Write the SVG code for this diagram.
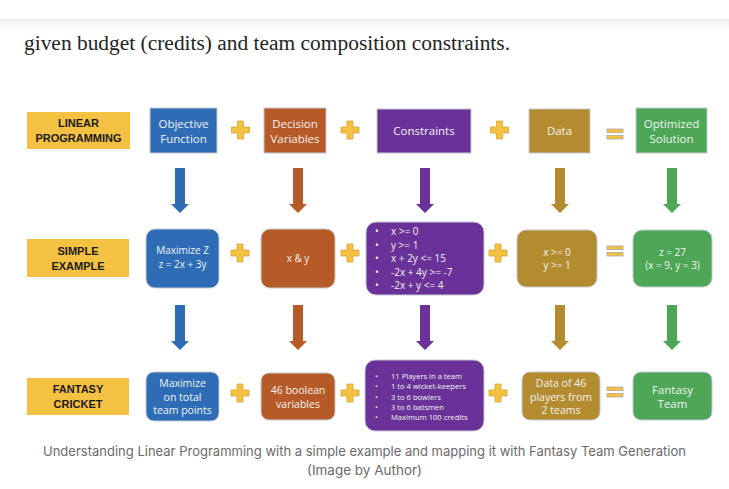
<svg xmlns="http://www.w3.org/2000/svg" xmlns:xlink="http://www.w3.org/1999/xlink" width="729" height="489" viewBox="0 0 729 489">
  <style>
    .lbl { fill: #F5C142; }
    .lbltxt { font-family: "Liberation Sans", Arial, sans-serif; font-weight: bold; font-size: 11px; fill: #1a1a1a; text-anchor: middle; }
    .box { stroke: #c3c9d2; stroke-width: 1; }
    .t { font-family: "Open Sans", "Liberation Sans", sans-serif; fill: #f2f2f2; text-anchor: middle; }
    .t1 { font-size: 11.5px; }
    .t2 { font-size: 10px; }
    .t3 { font-size: 10.5px; }
    .bl { font-family: "Open Sans", "Liberation Sans", sans-serif; fill: #f2f2f2; }
    .blue { fill: #2E6DB6; }
    .rust { fill: #B65A27; }
    .purple { fill: #6A3298; }
    .gold { fill: #B48C30; }
    .green { fill: #4DA757; }
  </style>
  <defs>
    <linearGradient id="hdrShadow" x1="0" y1="0" x2="0" y2="1">
      <stop offset="0" stop-color="#ececec"/>
      <stop offset="1" stop-color="#ffffff"/>
    </linearGradient>
    <path id="plus" d="M-3,-9h6v6h6v6h-6v6h-6v-6h-6v-6h6z" fill="#F5C142" stroke="#D6A630" stroke-width="0.8"/>
    <g id="equals" fill="#F5C142" stroke="#a9a9a9" stroke-width="0.8">
      <rect x="-8" y="-5" width="16" height="3.6"/>
      <rect x="-8" y="1.4" width="16" height="3.6"/>
    </g>
    <path id="arrow" d="M-5,0h10v36h4l-9,9l-9,-9h4z"/>
  </defs>

  <!-- page background and header shadow -->
  <rect width="729" height="489" fill="#ffffff"/>
  <rect x="0" y="19" width="729" height="10" fill="url(#hdrShadow)"/>

  <text x="24" y="50" font-family="'Liberation Serif', 'DejaVu Serif', serif" font-size="20" fill="#242424" textLength="486" lengthAdjust="spacingAndGlyphs">given budget (credits) and team composition constraints.</text>

  <!-- row labels -->
  <g id="label-lp">
    <rect class="lbl" x="27" y="112" width="103" height="37"/>
    <text class="lbltxt" x="78.5" y="127">LINEAR</text>
    <text class="lbltxt" x="78.5" y="142">PROGRAMMING</text>
  </g>
  <g id="label-simple">
    <rect class="lbl" x="27" y="239" width="102" height="38"/>
    <text class="lbltxt" x="78" y="255">SIMPLE</text>
    <text class="lbltxt" x="78" y="270">EXAMPLE</text>
  </g>
  <g id="label-fantasy">
    <rect class="lbl" x="27" y="378" width="102" height="37"/>
    <text class="lbltxt" x="78" y="393">FANTASY</text>
    <text class="lbltxt" x="78" y="408">CRICKET</text>
  </g>

  <!-- row 1: general linear programming -->
  <g id="objective-function">
    <rect class="box blue" x="150" y="108" width="67" height="45"/>
    <text class="t t1" x="183.5" y="128">Objective</text>
    <text class="t t1" x="183.5" y="143">Function</text>
  </g>
  <g id="decision-variables">
    <rect class="box rust" x="264" y="108" width="62" height="45"/>
    <text class="t t1" x="295" y="128">Decision</text>
    <text class="t t1" x="295" y="143">Variables</text>
  </g>
  <g id="constraints">
    <rect class="box purple" x="377" y="109" width="94" height="44"/>
    <text class="t t1" x="424" y="135">Constraints</text>
  </g>
  <g id="data">
    <rect class="box gold" x="529" y="109" width="61" height="44"/>
    <text class="t t1" x="559.5" y="135">Data</text>
  </g>
  <g id="optimized-solution">
    <rect class="box green" x="636" y="108" width="71" height="45"/>
    <text class="t t1" x="671.5" y="128">Optimized</text>
    <text class="t t1" x="671.5" y="143">Solution</text>
  </g>

  <!-- row 2: simple example -->
  <g id="simple-objective">
    <rect class="box blue" x="146" y="229" width="73" height="59" rx="9"/>
    <text class="t t2" x="182.5" y="254">Maximize Z</text>
    <text class="t t2" x="182.5" y="268">z = 2x + 3y</text>
  </g>
  <g id="simple-variables">
    <rect class="box rust" x="261" y="229" width="74" height="59" rx="9"/>
    <text class="t t2" x="298" y="262">x &amp; y</text>
  </g>
  <g id="simple-constraints">
    <rect class="box purple" x="366" y="222" width="118" height="73" rx="10"/>
    <g class="bl" font-size="10">
      <text x="375" y="235">•</text><text x="391" y="235">x &gt;= 0</text>
      <text x="375" y="248.5">•</text><text x="391" y="248.5">y &gt;= 1</text>
      <text x="375" y="262">•</text><text x="391" y="262">x + 2y &lt;= 15</text>
      <text x="375" y="275.5">•</text><text x="391" y="275.5">-2x + 4y &gt;= -7</text>
      <text x="375" y="289">•</text><text x="391" y="289">-2x + y &lt;=  4</text>
    </g>
  </g>
  <g id="simple-data">
    <rect class="box gold" x="517" y="230" width="80" height="57" rx="9"/>
    <text class="t t2" x="557" y="256">x &gt;= 0</text>
    <text class="t t2" x="557" y="269">y &gt;= 1</text>
  </g>
  <g id="simple-solution">
    <rect class="box green" x="633" y="230" width="79" height="57" rx="9"/>
    <text class="t t2" x="672.5" y="256">z = 27</text>
    <text class="t t2" x="672.5" y="269">(x = 9, y = 3)</text>
  </g>

  <!-- row 3: fantasy cricket -->
  <g id="fantasy-objective">
    <rect class="box blue" x="146" y="372" width="73" height="49" rx="8"/>
    <text class="t t3" x="182.5" y="387">Maximize</text>
    <text class="t t3" x="182.5" y="400.5">on total</text>
    <text class="t t3" x="182.5" y="414">team points</text>
  </g>
  <g id="fantasy-variables">
    <rect class="box rust" x="261" y="373" width="74" height="47" rx="8"/>
    <text class="t t3" x="298" y="394">46 boolean</text>
    <text class="t t3" x="298" y="408">variables</text>
  </g>
  <g id="fantasy-constraints">
    <rect class="box purple" x="365" y="360" width="119" height="71" rx="10"/>
    <g class="bl" font-size="7.6">
      <text x="375" y="379">•</text><text x="391" y="379">11 Players in a team</text>
      <text x="375" y="389">•</text><text x="391" y="389">1 to 4 wicket-keepers</text>
      <text x="375" y="399.5">•</text><text x="391" y="399.5">3 to 6 bowlers</text>
      <text x="375" y="409.5">•</text><text x="391" y="409.5">3 to 6 batsmen</text>
      <text x="375" y="420">•</text><text x="391" y="420">Maximum 100 credits</text>
    </g>
  </g>
  <g id="fantasy-data">
    <rect class="box gold" x="522" y="372" width="78" height="48" rx="8"/>
    <text class="t t3" x="561" y="387">Data of 46</text>
    <text class="t t3" x="561" y="400.5">players from</text>
    <text class="t t3" x="561" y="414">2 teams</text>
  </g>
  <g id="fantasy-team">
    <rect class="box green" x="633" y="372" width="79" height="48" rx="8"/>
    <text class="t t1" x="672.5" y="394">Fantasy</text>
    <text class="t t1" x="672.5" y="408">Team</text>
  </g>

  <!-- operators and downward connectors -->
  <g id="connectors">
    <use xlink:href="#plus" x="240.5" y="130"/>
    <use xlink:href="#plus" x="350" y="130"/>
    <use xlink:href="#plus" x="499.5" y="130"/>
    <use xlink:href="#equals" x="615" y="134"/>

    <use xlink:href="#plus" x="240" y="253"/>
    <use xlink:href="#plus" x="350" y="253"/>
    <use xlink:href="#plus" x="498" y="253"/>
    <use xlink:href="#equals" x="615" y="251"/>

    <use xlink:href="#plus" x="240" y="393"/>
    <use xlink:href="#plus" x="350" y="393"/>
    <use xlink:href="#plus" x="498" y="393"/>
    <use xlink:href="#equals" x="615" y="392"/>

    <use xlink:href="#arrow" x="180" y="168" class="blue"/>
    <use xlink:href="#arrow" x="298" y="168" class="rust"/>
    <use xlink:href="#arrow" x="425" y="168" class="purple"/>
    <use xlink:href="#arrow" x="560" y="168" class="gold"/>
    <use xlink:href="#arrow" x="672" y="168" class="green"/>

    <use xlink:href="#arrow" x="180" y="305" class="blue"/>
    <use xlink:href="#arrow" x="298" y="305" class="rust"/>
    <use xlink:href="#arrow" x="425" y="305" class="purple"/>
    <use xlink:href="#arrow" x="560" y="305" class="gold"/>
    <use xlink:href="#arrow" x="672" y="305" class="green"/>
  </g>

  <!-- caption -->
  <g font-family="Inter, 'Liberation Sans', sans-serif" font-size="13.5" fill="#6b6b6b" text-anchor="middle">
    <text x="364.5" y="456" textLength="643" lengthAdjust="spacingAndGlyphs">Understanding Linear Programming with a simple example and mapping it with Fantasy Team Generation</text>
    <text x="364.5" y="475">(Image by Author)</text>
  </g>
</svg>
